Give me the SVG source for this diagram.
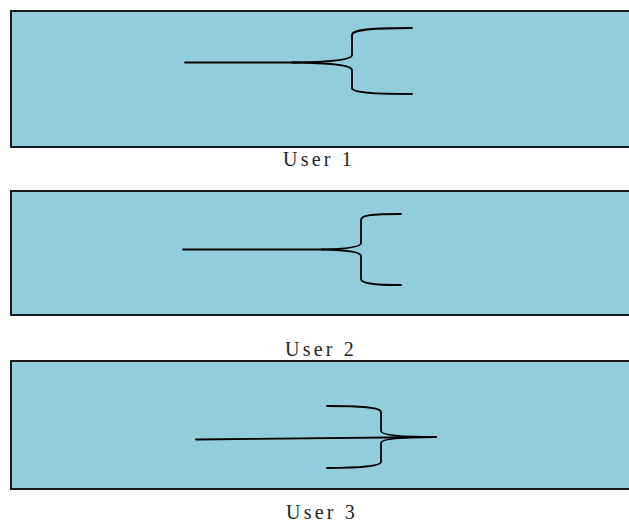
<svg xmlns="http://www.w3.org/2000/svg" width="629" height="525" viewBox="0 0 629 525">
  <style>
    .lane { fill: #91cddb; stroke: #1a1a1a; stroke-width: 2; }
    .label { font-family: "Liberation Serif", "Times New Roman", serif; font-size: 20px; letter-spacing: 3.2px; fill: #222; text-anchor: middle; }
    .link { fill: none; stroke: #000; stroke-width: 1.8; stroke-linecap: round; stroke-linejoin: round; }
  </style>

  <!-- swimlanes -->
  <g id="user1">
    <rect class="lane" x="11" y="11" width="630" height="136"/>
    <text class="label" x="319" y="166">User 1</text>
  </g>
  <g id="user2">
    <rect class="lane" x="11" y="191" width="630" height="124"/>
    <text class="label" x="321" y="356">User 2</text>
  </g>
  <g id="user3">
    <rect class="lane" x="11" y="361" width="630" height="128"/>
    <text class="label" x="322" y="519">User 3</text>
  </g>

  <!-- connectors: stems and braces -->
  <g id="connectors">
    <path class="link" d="M185,62.5 L300,62.5"/>
    <path class="link" d="M412,28 C375,28 352,29 352,35 L352,55 C352,60 330,62 292,62.5 C330,63 352,65 352,70 L352,88 C352,93 375,94 412,94"/>

    <path class="link" d="M183,249.5 L325,249.5"/>
    <path class="link" d="M401,214 C372,214 361,215 361,220 L361,243 C361,247 345,249 322,249.5 C345,250 361,252 361,256 L361,279 C361,283 372,285 401,285"/>

    <path class="link" d="M196,439.5 L436,437"/>
    <path class="link" d="M327,406 C360,406 381,407 381,412 L381,431 C381,435 400,437 436,437 C400,437 381,439 381,443 L381,462 C381,466 360,468 327,468"/>
  </g>
</svg>
